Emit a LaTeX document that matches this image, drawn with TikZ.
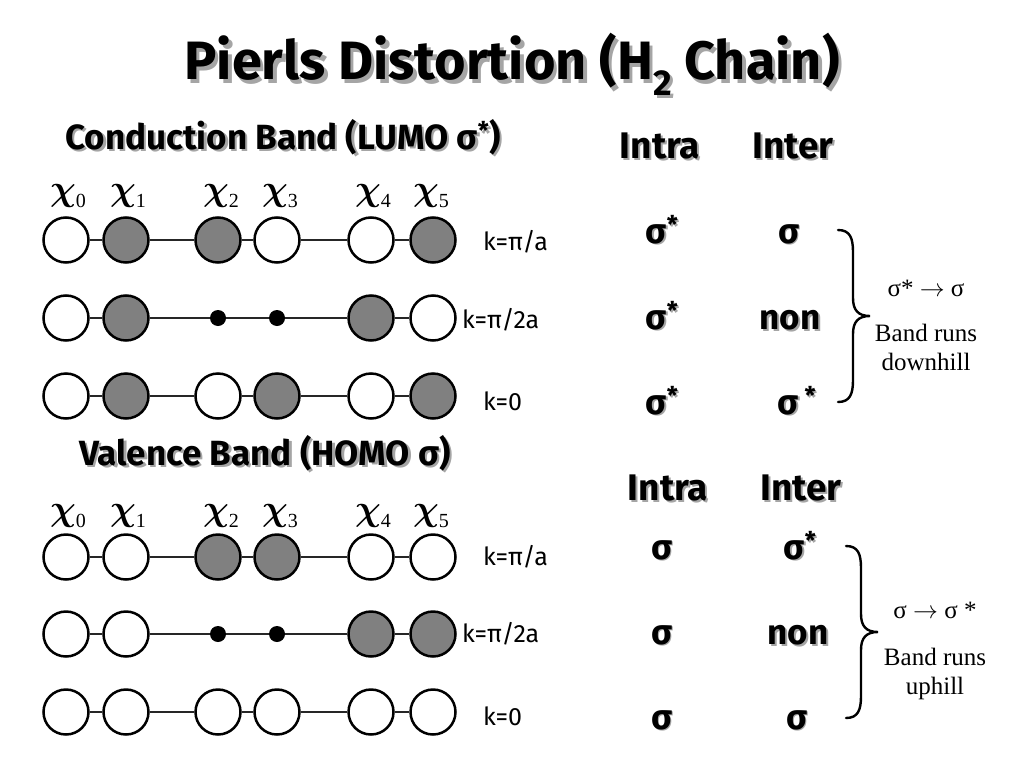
\documentclass[tikz,border=0pt]{standalone}
\usepackage{amsmath}
\usepackage{fontspec}
\usepackage{graphicx}
\setmainfont{Fira Sans}
\newfontfamily\tms{Liberation Serif}
\definecolor{orbgray}{RGB}{128,128,128}
\definecolor{shd}{RGB}{165,165,165}
\newcommand\shtx[2][2pt]{\rlap{\kern#1\raisebox{-#1}{\textcolor{shd}{#2}}}#2}
\newcommand\chainrow[3]{%
  \foreach \s [count=\i from 0] in {#3} {
    \pgfmathsetmacro\xx{{66,126,218,277,371,433}[\i]}
    \node[\s] (#1\i) at (\xx,#2) {};
  }
  \foreach \i [evaluate=\i as \j using int(\i+1)] in {0,...,4} {\draw[bond] (#1\i) -- (#1\j);}
}
\newcommand\chilabels[2]{%
  \foreach \i in {0,...,5} {
    \pgfmathsetmacro\xx{{68,128,221,280,373,431}[\i]}
    \node[chil] (#1\i) at (\xx,#2) {\scalebox{3.0}{$\boldsymbol{\chi}$}{\tms\fontsize{20}{20}\selectfont\raisebox{-7pt}{\i}}};
  }
}
\begin{document}
\begin{tikzpicture}[x=1pt,y=-1pt,
  orb/.style={circle, draw=black, line width=2.5pt, minimum size=45pt, inner sep=0pt},
  wo/.style={orb, fill=white},
  go/.style={orb, fill=orbgray},
  dotn/.style={circle, fill=black, minimum size=16pt, inner sep=0pt},
  bond/.style={line width=1.1pt, draw=black!85},
  chil/.style={font=\fontsize{12}{12}\selectfont, inner sep=0pt, anchor=base},
  title/.style={font=\fontsize{54}{60}\selectfont\bfseries, inner sep=0pt},
  head/.style={font=\fontsize{35}{38}\selectfont\bfseries, inner sep=0pt},
  col/.style={font=\fontsize{37}{40}\selectfont\bfseries, inner sep=0pt},
  sig/.style={font=\fontsize{35}{38}\selectfont\bfseries, inner sep=0pt, anchor=base},
  klab/.style={font=\fontsize{25}{28}\selectfont, inner sep=0pt, anchor=west},
  note/.style={font=\tms\fontsize{25}{28}\selectfont, inner sep=0pt},
  brc/.style={line width=2.4pt, draw=black, line cap=round}
]
\useasboundingbox[fill=white] (0,0) rectangle (1024,768);

% title
\node[title] (ttl) at (512,66) {\shtx[3.5pt]{Pierls Distortion (H\raisebox{-0.28em}{\fontsize{36}{36}\selectfont 2} Chain)}};

% conduction band
\node[head] (cbh) at (283,138) {\shtx[2.5pt]{Conduction Band (LUMO σ\textsuperscript{*})}};
\chilabels{ca}{200}
\chainrow{cA}{240}{wo,go,go,wo,wo,go}
\chainrow{cB}{318}{wo,go,dotn,dotn,go,wo}
\chainrow{cC}{396}{wo,go,wo,go,wo,go}
\node[klab] (kc1) at (483,242) {k=π/a};
\node[klab] (kc2) at (462,320) {k=π/2a};
\node[klab] (kc3) at (483,401) {k=0};

% valence band
\node[head] (vbh) at (265,454) {\shtx[2.5pt]{Valence Band (HOMO σ)}};
\chilabels{va}{520}
\chainrow{vA}{557}{wo,wo,go,go,wo,wo}
\chainrow{vB}{634}{wo,wo,dotn,dotn,go,go}
\chainrow{vC}{712}{wo,wo,wo,wo,wo,wo}
\node[klab] (kv1) at (483,557) {k=π/a};
\node[klab] (kv2) at (462,634) {k=π/2a};
\node[klab] (kv3) at (483,716) {k=0};

% upper table
\node[col] (in1) at (660,147) {\shtx{Intra}};
\node[col] (it1) at (793,147) {\shtx{Inter}};
\node[sig] (u11) at (662,243) {\shtx[1.5pt]{σ\textsuperscript{*}}};
\node[sig] (u21) at (662,329) {\shtx[1.5pt]{σ\textsuperscript{*}}};
\node[sig] (u31) at (662,414) {\shtx[1.5pt]{σ\textsuperscript{*}}};
\node[sig] (u12) at (789,243) {\shtx[1.5pt]{σ}};
\node[sig] (u22) at (790,329) {\shtx[2pt]{non}};
\node[sig] (u32) at (797,414) {\shtx[1.5pt]{σ\,\textsuperscript{*}}};
\draw[brc] (838,230) .. controls (850,230) and (853,238) .. (853,252) -- (853,298)
  .. controls (853,310) and (858,316) .. (870,316)
  .. controls (858,316) and (853,322) .. (853,334) -- (853,380)
  .. controls (853,394) and (850,402) .. (838,402);
\node[note] (un1) at (926,288) {σ* $\rightarrow$ σ};
\node[note] (un2) at (926,333) {Band runs};
\node[note] (un3) at (926,362) {downhill};

% lower table
\node[col] (in2) at (668,489) {\shtx{Intra}};
\node[col] (it2) at (801,489) {\shtx{Inter}};
\node[sig] (l11) at (662,559) {\shtx[1.5pt]{σ}};
\node[sig] (l21) at (662,644) {\shtx[1.5pt]{σ}};
\node[sig] (l31) at (662,729) {\shtx[1.5pt]{σ}};
\node[sig] (l12) at (800,559) {\shtx[1.5pt]{σ\textsuperscript{*}}};
\node[sig] (l22) at (798,644) {\shtx[2pt]{non}};
\node[sig] (l32) at (797,729) {\shtx[1.5pt]{σ}};
\draw[brc] (846,546) .. controls (858,546) and (861,554) .. (861,568) -- (861,614)
  .. controls (861,626) and (866,632) .. (878,632)
  .. controls (866,632) and (861,638) .. (861,650) -- (861,696)
  .. controls (861,710) and (858,718) .. (846,718);
\node[note] (ln1) at (935,610) {σ $\rightarrow$ σ *};
\node[note] (ln2) at (935,657) {Band runs};
\node[note] (ln3) at (935,688) {uphill};
\end{tikzpicture}
\end{document}
